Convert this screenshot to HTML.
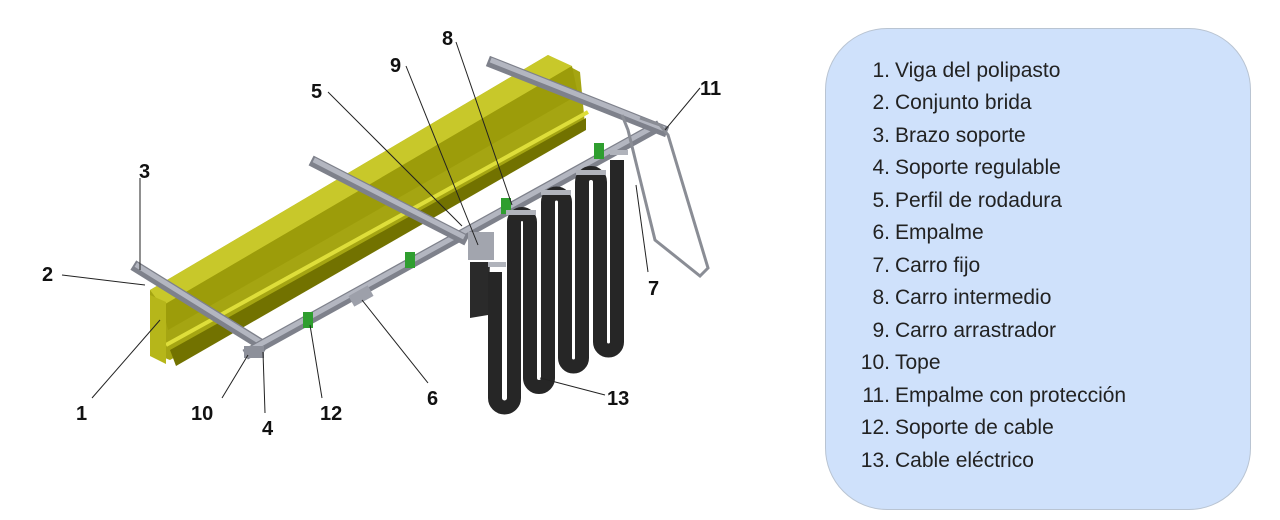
<!DOCTYPE html>
<html><head><meta charset="utf-8"><style>
html,body{margin:0;padding:0;background:#fff;width:1280px;height:520px;overflow:hidden;font-family:"Liberation Sans",sans-serif}
.box{position:absolute;left:825px;top:28px;width:426px;height:482px;background:#cfe1fb;border:1.5px solid #b9c4d2;border-radius:62px;box-sizing:border-box}
.li{position:absolute;font-size:21px;color:#222;white-space:nowrap}
.li b{font-weight:normal;display:inline-block;width:65px;text-align:right;margin-right:5px}
</style></head><body>
<svg width="1280" height="520" style="position:absolute;left:0;top:0" font-family="Liberation Sans, sans-serif">
 <polygon points="150,290 548,55 580,72 585,125 170,360 150,352" fill="#a5a512"/>
 <polygon points="150,290 548,55 572,66 162,306" fill="#c8c82a"/>
 <polygon points="162,306 572,66 578,95 168,330" fill="#9c9c0a"/>
 <line x1="166" y1="345" x2="588" y2="112" stroke="#dede3a" stroke-width="4"/>
 <polygon points="170,350 586,118 586,130 176,366" fill="#727200"/>
 <polygon points="150,295 166,302 166,364 150,356" fill="#b6b61a"/>
 <g stroke-linecap="square">
  <line x1="138" y1="268" x2="262" y2="345" stroke="#7e818b" stroke-width="11"/>
  <line x1="138" y1="266" x2="262" y2="343" stroke="#b3b6c0" stroke-width="5"/>
  <line x1="250" y1="352" x2="655" y2="128" stroke="#7e818b" stroke-width="11"/>
  <line x1="250" y1="350" x2="655" y2="126" stroke="#b3b6c0" stroke-width="5"/>
  <line x1="316" y1="163" x2="462" y2="238" stroke="#7e818b" stroke-width="11"/>
  <line x1="316" y1="161" x2="462" y2="236" stroke="#b3b6c0" stroke-width="5"/>
  <line x1="493" y1="63" x2="662" y2="130" stroke="#7e818b" stroke-width="11"/>
  <line x1="493" y1="61" x2="662" y2="128" stroke="#b3b6c0" stroke-width="5"/>
 </g>
 <rect x="244" y="346" width="20" height="12" fill="#8d909a"/>
 <rect x="350" y="290" width="22" height="12" fill="#9da0aa" transform="rotate(-29 361 296)"/>
 <rect x="468" y="232" width="26" height="28" fill="#a2a5ae"/>
 <g fill="#2f9e2f">
  <rect x="303" y="312" width="10" height="16"/><rect x="405" y="252" width="10" height="16"/>
  <rect x="501" y="198" width="10" height="16"/><rect x="594" y="143" width="10" height="16"/>
 </g>
 <polyline points="622,115 628,130 655,240 700,276 708,268 668,135 660,125 640,118" fill="none" stroke="#8a8d95" stroke-width="3"/>
 <polygon points="470,262 490,262 488,315 470,318" fill="#2a2a2a"/>
 <path d="M495 272 V398 A9.5 9.5 0 0 0 514 398 V222 A8 8 0 0 1 530 222 V378 A9 9 0 0 0 548 378 V202 A8.5 8.5 0 0 1 565 202 V358 A8.5 8.5 0 0 0 582 358 V182 A9 9 0 0 1 600 182 V342 A8.5 8.5 0 0 0 617 342 V160" fill="none" stroke="#262626" stroke-width="14"/>
 <g fill="#b0b3bb">
  <rect x="488" y="262" width="18" height="5"/><rect x="506" y="210" width="30" height="5"/>
  <rect x="541" y="190" width="30" height="5"/><rect x="576" y="170" width="30" height="5"/><rect x="610" y="150" width="18" height="5"/>
 </g>
 <g stroke="#222" stroke-width="1">
  <line x1="92" y1="398" x2="160" y2="320"/>
  <line x1="62" y1="275" x2="145" y2="285"/>
  <line x1="140" y1="178" x2="140" y2="270"/>
  <line x1="265" y1="413" x2="263" y2="352"/>
  <line x1="328" y1="92" x2="462" y2="226"/>
  <line x1="428" y1="383" x2="362" y2="300"/>
  <line x1="648" y1="272" x2="636" y2="185"/>
  <line x1="456" y1="42" x2="512" y2="205"/>
  <line x1="406" y1="66" x2="478" y2="245"/>
  <line x1="222" y1="398" x2="248" y2="355"/>
  <line x1="700" y1="88" x2="665" y2="130"/>
  <line x1="322" y1="398" x2="310" y2="325"/>
  <line x1="605" y1="395" x2="540" y2="378"/>
 </g>
 <g font-size="20" font-weight="bold" fill="#111">
  <text x="76" y="420">1</text><text x="42" y="281">2</text><text x="139" y="178">3</text>
  <text x="262" y="435">4</text><text x="311" y="98">5</text><text x="427" y="405">6</text>
  <text x="648" y="295">7</text><text x="442" y="45">8</text><text x="390" y="72">9</text>
  <text x="191" y="420">10</text><text x="700" y="95">11</text><text x="320" y="420">12</text>
  <text x="607" y="405">13</text>
 </g>
</svg>
<div class="box"></div>
<div class="li" style="left:825px;top:59px"><b>1.</b>Viga del polipasto</div>
<div class="li" style="left:825px;top:91px"><b>2.</b>Conjunto brida</div>
<div class="li" style="left:825px;top:124px"><b>3.</b>Brazo soporte</div>
<div class="li" style="left:825px;top:156px"><b>4.</b>Soporte regulable</div>
<div class="li" style="left:825px;top:189px"><b>5.</b>Perfil de rodadura</div>
<div class="li" style="left:825px;top:221px"><b>6.</b>Empalme</div>
<div class="li" style="left:825px;top:254px"><b>7.</b>Carro fijo</div>
<div class="li" style="left:825px;top:286px"><b>8.</b>Carro intermedio</div>
<div class="li" style="left:825px;top:319px"><b>9.</b>Carro arrastrador</div>
<div class="li" style="left:825px;top:351px"><b>10.</b>Tope</div>
<div class="li" style="left:825px;top:384px"><b>11.</b>Empalme con protección</div>
<div class="li" style="left:825px;top:416px"><b>12.</b>Soporte de cable</div>
<div class="li" style="left:825px;top:449px"><b>13.</b>Cable eléctrico</div>
</body></html>
